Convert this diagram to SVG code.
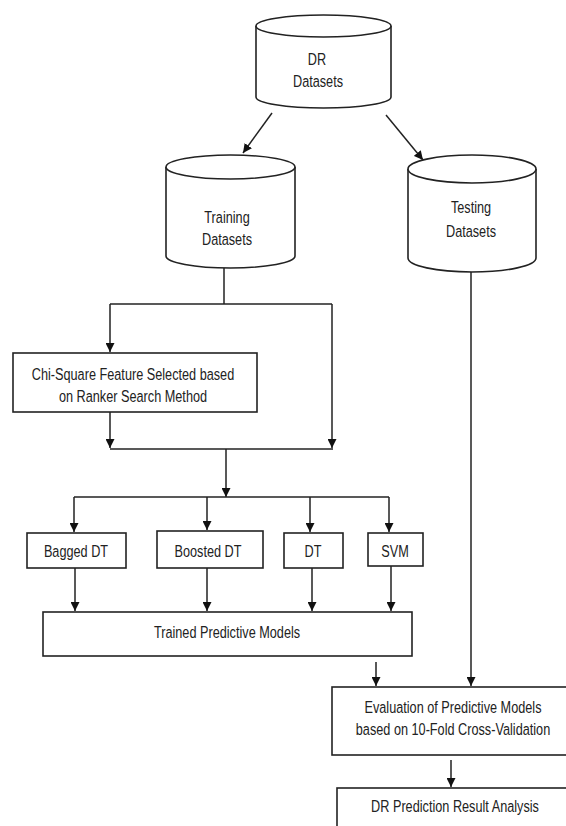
<svg xmlns="http://www.w3.org/2000/svg" width="566" height="826" viewBox="0 0 566 826">
<defs>
<style>
.s{fill:#fff;stroke:#222;stroke-width:1.6}
.c{fill:none;stroke:#222;stroke-width:1.5}
.t{font-family:"Liberation Sans",Arial,sans-serif;font-size:12.7px;fill:#222;text-anchor:middle}
</style>
<marker id="ah" viewBox="0 0 10 10" refX="10" refY="5" markerWidth="9" markerHeight="9" markerUnits="userSpaceOnUse" orient="auto">
<path d="M0,0 L10,5 L0,10 Z" fill="#111"/>
</marker>
</defs>
<rect width="566" height="826" fill="#fff"/>

<g id="connectors">
<line class="c" x1="272" y1="113" x2="243" y2="153" marker-end="url(#ah)"/>
<line class="c" x1="386" y1="115" x2="423" y2="160" marker-end="url(#ah)"/>
<line class="c" x1="224" y1="268" x2="224" y2="304"/>
<line class="c" x1="110" y1="304" x2="332" y2="304"/>
<line class="c" x1="110" y1="304" x2="110" y2="352" marker-end="url(#ah)"/>
<line class="c" x1="332" y1="304" x2="332" y2="448" marker-end="url(#ah)"/>
<line class="c" x1="110" y1="412" x2="110" y2="448" marker-end="url(#ah)"/>
<line class="c" x1="110" y1="449" x2="333" y2="449"/>
<line class="c" x1="226" y1="449" x2="226" y2="497" marker-end="url(#ah)"/>
<line class="c" x1="74" y1="497" x2="389" y2="497"/>
<line class="c" x1="74" y1="497" x2="74" y2="532" marker-end="url(#ah)"/>
<line class="c" x1="207" y1="497" x2="207" y2="530" marker-end="url(#ah)"/>
<line class="c" x1="310" y1="497" x2="310" y2="532" marker-end="url(#ah)"/>
<line class="c" x1="389" y1="497" x2="389" y2="532" marker-end="url(#ah)"/>
<line class="c" x1="75" y1="568" x2="75" y2="611" marker-end="url(#ah)"/>
<line class="c" x1="207" y1="568" x2="207" y2="611" marker-end="url(#ah)"/>
<line class="c" x1="312" y1="568" x2="312" y2="611" marker-end="url(#ah)"/>
<line class="c" x1="391" y1="566" x2="391" y2="611" marker-end="url(#ah)"/>
<line class="c" x1="376" y1="662" x2="376" y2="686" marker-end="url(#ah)"/>
<line class="c" x1="471" y1="272" x2="471" y2="686" marker-end="url(#ah)"/>
<line class="c" x1="451" y1="760" x2="451" y2="787" marker-end="url(#ah)"/>
</g>

<g id="dr-datasets">
<path class="s" d="M256,26 V97 A67.5,11 0 0 0 391,97 V26"/>
<ellipse class="s" cx="323.5" cy="26" rx="67.5" ry="11"/>
<text class="t" transform="translate(317,65) scale(1,1.32)">DR</text>
<text class="t" transform="translate(318,87) scale(1,1.32)">Datasets</text>
</g>

<g id="training-datasets">
<path class="s" d="M166,167 V256 A64.5,12 0 0 0 295,256 V167"/>
<ellipse class="s" cx="230.5" cy="167" rx="64.5" ry="12"/>
<text class="t" transform="translate(227,223) scale(1,1.32)">Training</text>
<text class="t" transform="translate(227,245) scale(1,1.32)">Datasets</text>
</g>

<g id="testing-datasets">
<path class="s" d="M408,169 V258 A64,14 0 0 0 536,258 V169"/>
<ellipse class="s" cx="472" cy="169" rx="64" ry="14"/>
<text class="t" transform="translate(471,213) scale(1,1.32)">Testing</text>
<text class="t" transform="translate(471,237) scale(1,1.32)">Datasets</text>
</g>

<g id="chi-square">
<rect class="s" x="13" y="353" width="244" height="59"/>
<text class="t" transform="translate(133,380) scale(1,1.32)">Chi-Square Feature Selected based</text>
<text class="t" transform="translate(133,402) scale(1,1.32)">on Ranker Search Method</text>
</g>

<g id="bagged-dt">
<rect class="s" x="27" y="533" width="99" height="35"/>
<text class="t" transform="translate(76,557) scale(1,1.32)">Bagged DT</text>
</g>

<g id="boosted-dt">
<rect class="s" x="157" y="531" width="106" height="37"/>
<text class="t" transform="translate(208,557) scale(1,1.32)">Boosted DT</text>
</g>

<g id="dt">
<rect class="s" x="284" y="533" width="59" height="35"/>
<text class="t" transform="translate(313,557) scale(1,1.32)">DT</text>
</g>

<g id="svm">
<rect class="s" x="368" y="533" width="55" height="33"/>
<text class="t" transform="translate(395,557) scale(1,1.32)">SVM</text>
</g>

<g id="trained-models">
<rect class="s" x="43" y="612" width="369" height="44"/>
<text class="t" transform="translate(227,638) scale(1,1.32)">Trained Predictive Models</text>
</g>

<g id="evaluation">
<rect class="s" x="332" y="687" width="240" height="68"/>
<text class="t" transform="translate(453,713) scale(1,1.32)">Evaluation of Predictive Models</text>
<text class="t" transform="translate(453,735) scale(1,1.32)">based on 10-Fold Cross-Validation</text>
</g>

<g id="result-analysis">
<rect class="s" x="337" y="788" width="240" height="50"/>
<text class="t" transform="translate(455,812) scale(1,1.32)">DR Prediction Result Analysis</text>
</g>
</svg>
